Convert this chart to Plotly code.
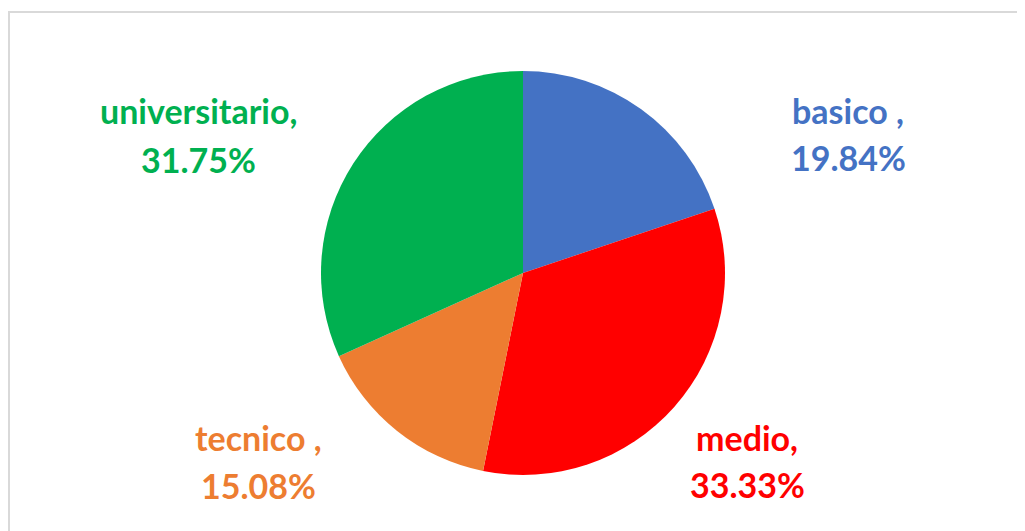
import plotly.graph_objects as go

# datos del grafico
categorias = ["basico ", "medio", "tecnico ", "universitario"]
porcentajes = [19.84, 33.33, 15.08, 31.75]
colores = ["#4472C4", "#FF0000", "#ED7D31", "#00B050"]

W, H = 1025, 531
OFF = 8  # margen del body de la pagina html
fuente = "Lato"

# posiciones de las etiquetas (pixeles de pantalla del centro de cada linea)
pos_etiquetas = {
    "basico ": (848, 110, 157),
    "medio": (747, 437, 484),
    "tecnico ": (258, 437, 485),
    "universitario": (198, 110, 159),
}


def px(x):
    return (x - OFF) / W


def py(y):
    return 1 - (y - OFF) / H


fig = go.Figure()
fig.add_trace(go.Pie(
    labels=categorias,
    values=porcentajes,
    sort=False,
    direction="clockwise",
    rotation=0,
    marker=dict(colors=colores, line=dict(width=0)),
    textinfo="none",
    hoverinfo="label+percent",
    showlegend=False,
    domain=dict(x=[px(321), px(725)], y=[py(475), py(71)]),
))

anotaciones = []
for cat, val, col in zip(categorias, porcentajes, colores):
    x, y1, y2 = pos_etiquetas[cat]
    for txt, y in ((f"{cat},", y1), (f"{val:.2f}%", y2)):
        anotaciones.append(dict(
            x=px(x), y=py(y), xref="paper", yref="paper",
            text=f"<b>{txt}</b>", showarrow=False,
            xanchor="center", yanchor="middle",
            font=dict(family=fuente, size=34, color=col),
        ))

fig.update_layout(
    width=W,
    height=H,
    margin=dict(l=0, r=0, t=0, b=0),
    paper_bgcolor="white",
    plot_bgcolor="white",
    annotations=anotaciones,
    shapes=[dict(type="rect", xref="paper", yref="paper",
                 x0=px(9), y0=-0.05, x1=1.05, y1=py(12),
                 line=dict(color="#D9D9D9", width=2), fillcolor="rgba(0,0,0,0)")],
)

fig.write_html("out.html")
